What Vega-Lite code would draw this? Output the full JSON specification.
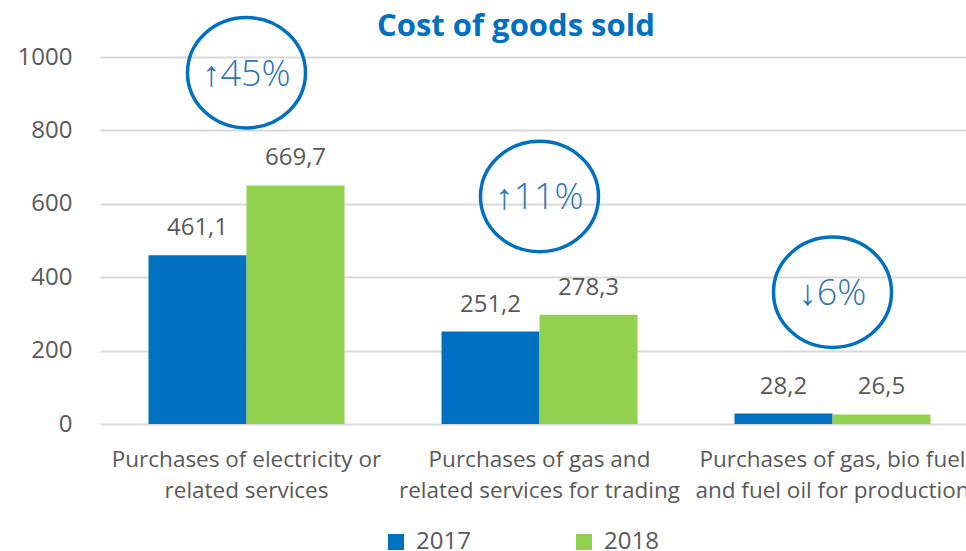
{
  "$schema": "https://vega.github.io/schema/vega-lite/v6.json",
  "width": 866,
  "height": 367,
  "autosize": {"type": "none"},
  "padding": {"left": 100, "top": 57, "right": 0, "bottom": 127},
  "background": "white",
  "config": {
    "font": "Open Sans",
    "view": {"stroke": null},
    "axis": {"labelFont": "Open Sans", "labelColor": "#595959"}
  },
  "title": {
    "text": "Cost of goods sold",
    "color": "#0070C0",
    "fontSize": 31,
    "fontWeight": "bold",
    "font": "Open Sans",
    "anchor": "start",
    "frame": "group",
    "dx": 277,
    "dy": 76,
    "baseline": "alphabetic",
    "offset": 20
  },
  "datasets": {
    "bars": [
      {"category": "Purchases of electricity or related services", "year": "2017", "value": 460, "label": "461,1"},
      {"category": "Purchases of electricity or related services", "year": "2018", "value": 650, "label": "669,7"},
      {"category": "Purchases of gas and related services for trading", "year": "2017", "value": 252, "label": "251,2"},
      {"category": "Purchases of gas and related services for trading", "year": "2018", "value": 298, "label": "278,3"},
      {"category": "Purchases of gas, bio fuel and fuel oil for production", "year": "2017", "value": 28.5, "label": "28,2"},
      {"category": "Purchases of gas, bio fuel and fuel oil for production", "year": "2018", "value": 26, "label": "26,5"}
    ],
    "notes": [
      {"category": "Purchases of electricity or related services", "pos": 957, "text": "↑45%"},
      {"category": "Purchases of gas and related services for trading", "pos": 620, "text": "↑11%"},
      {"category": "Purchases of gas, bio fuel and fuel oil for production", "pos": 359, "text": "↓6%"}
    ]
  },
  "encoding": {
    "x": {
      "field": "category",
      "type": "nominal",
      "sort": null,
      "scale": {
        "domain": [
          "Purchases of electricity or related services",
          "Purchases of gas and related services for trading",
          "Purchases of gas, bio fuel and fuel oil for production"
        ],
        "range": [0, 879],
        "paddingInner": 0.331,
        "paddingOuter": 0.1655
      },
      "axis": {
        "title": null,
        "orient": "bottom",
        "domain": false,
        "ticks": false,
        "labelAngle": 0,
        "labelFontSize": 22.5,
        "labelPadding": 24,
        "labelLineHeight": 31.5,
        "labelLimit": 0,
        "labelBaseline": "top",
        "labelExpr": "datum.value == 'Purchases of electricity or related services' ? ['Purchases of electricity or', 'related services'] : datum.value == 'Purchases of gas and related services for trading' ? ['Purchases of gas and', 'related services for trading'] : ['Purchases of gas, bio fuel', 'and fuel oil for production']"
      }
    }
  },
  "layer": [
    {
      "data": {"name": "bars"},
      "mark": {"type": "bar"},
      "encoding": {
        "xOffset": {"field": "year", "type": "nominal", "scale": {"domain": ["2017", "2018"], "paddingInner": 0, "paddingOuter": 0}},
        "y": {
          "field": "value",
          "type": "quantitative",
          "scale": {"domain": [0, 1000], "nice": false},
          "axis": {
            "title": null,
            "values": [0, 200, 400, 600, 800, 1000],
            "format": "d",
            "domain": false,
            "ticks": false,
            "labelFontSize": 24,
            "labelPadding": 28,
            "gridColor": "#d9d9d9",
            "gridWidth": 2
          }
        },
        "color": {
          "field": "year",
          "type": "nominal",
          "scale": {"domain": ["2017", "2018"], "range": ["#0070C0", "#92D050"]},
          "legend": {
            "title": null,
            "orient": "none",
            "direction": "horizontal",
            "legendX": 284,
            "legendY": 473,
            "padding": 0,
            "symbolType": "square",
            "symbolSize": 256,
            "symbolStrokeWidth": 0,
            "labelFontSize": 24,
            "labelColor": "#595959",
            "labelOffset": 8,
            "columnPadding": 101
          }
        }
      }
    },
    {
      "data": {"name": "bars"},
      "mark": {"type": "text", "fontSize": 24, "color": "#595959", "baseline": "middle", "dy": -27},
      "encoding": {
        "xOffset": {"field": "year", "type": "nominal"},
        "y": {"field": "value", "type": "quantitative"},
        "text": {"field": "label", "type": "nominal"}
      }
    },
    {
      "data": {"name": "notes"},
      "mark": {
        "type": "point",
        "shape": "M -1 0 A 1 0.935 0 1 0 1 0 A 1 0.935 0 1 0 -1 0 Z",
        "size": 13924,
        "filled": false,
        "stroke": "#0070C0",
        "strokeWidth": 3.5,
        "opacity": 1
      },
      "encoding": {
        "y": {"field": "pos", "type": "quantitative"}
      }
    },
    {
      "data": {"name": "notes"},
      "mark": {"type": "text", "fontSize": 36, "fontWeight": 300, "color": "#2E75B6", "baseline": "middle", "dy": 2},
      "encoding": {
        "y": {"field": "pos", "type": "quantitative"},
        "text": {"field": "text", "type": "nominal"}
      }
    }
  ]
}
